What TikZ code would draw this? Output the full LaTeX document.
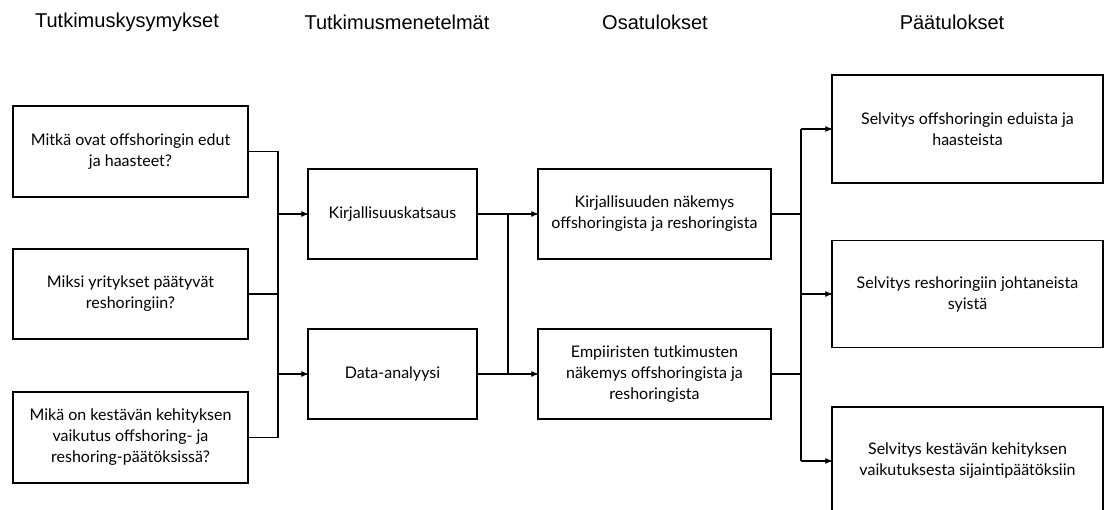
\documentclass[tikz,border=0pt]{standalone}
\usepackage{fontspec}
\setmainfont{Lato}
\newfontfamily\headfont{Liberation Sans}
\usetikzlibrary{arrows}

\begin{document}
\begin{tikzpicture}[x=1pt, y=-1pt,
        box/.style = {draw, line width = 1.2pt, align = center, font = \fontsize{16}{21}\selectfont, inner sep = 0pt},
        head/.style = {font = \headfont\fontsize{20}{22}\selectfont},
        line/.style = {line width = 1.2pt},
        arr/.style = {->, >=stealth', line width = 1.2pt}]
        \clip (0,0) rectangle (1104,510);
        \fill[white] (0,0) rectangle (1104,510);

        % otsikot
        \node[head] (h1) at (127,22){Tutkimuskysymykset};
        \node[head] (h2) at (397,22){Tutkimusmenetelmät};
        \node[head] (h3) at (655,22){Osatulokset};
        \node[head] (h4) at (952,22){Päätulokset};

        % tutkimuskysymykset
        \node[box, minimum width = 235pt, minimum height = 91pt] (q1) at (130.5,151.5){Mitkä ovat offshoringin edut\\ja haasteet?};
        \node[box, minimum width = 235pt, minimum height = 90pt] (q2) at (130.5,294){Miksi yritykset päätyvät\\reshoringiin?};
        \node[box, minimum width = 235pt, minimum height = 91pt] (q3) at (130.5,437.5){Mikä on kestävän kehityksen\\vaikutus offshoring- ja\\reshoring-päätöksissä?};

        % menetelmät
        \node[box, minimum width = 169pt, minimum height = 90pt] (kirj) at (392.5,214){Kirjallisuuskatsaus};
        \node[box, minimum width = 169pt, minimum height = 90pt] (data) at (392.5,374){Data-analyysi};

        % osatulokset
        \node[box, minimum width = 233pt, minimum height = 90pt] (okirj) at (654.5,214){Kirjallisuuden näkemys\\offshoringista ja reshoringista};
        \node[box, minimum width = 233pt, minimum height = 90pt] (oemp) at (654.5,374){Empiiristen tutkimusten\\näkemys offshoringista ja\\reshoringista};

        % päätulokset
        \node[box, minimum width = 271pt, minimum height = 108pt] (p1) at (967.5,129){Selvitys offshoringin eduista ja\\haasteista};
        \node[box, minimum width = 271pt, minimum height = 107pt] (p2) at (967.5,294){Selvitys reshoringiin johtaneista\\syistä};
        \node[box, minimum width = 271pt, minimum height = 108pt] (p3) at (967.5,461){Selvitys kestävän kehityksen\\vaikutuksesta sijaintipäätöksiin};

        \coordinate (j1) at (278,0);
        \coordinate (j2) at (508,0);
        \coordinate (j3) at (801,0);

        \draw[line] (q1.east) -| (j1 |- q3.east) -- (q3.east);
        \draw[line] (q2.east) -- (j1 |- q2.east);
        \draw[arr] (j1 |- kirj.west) -- (kirj.west);
        \draw[arr] (j1 |- data.west) -- (data.west);

        \draw[line] (j2 |- kirj.east) -- (j2 |- data.east);
        \draw[arr] (kirj.east) -- (okirj.west);
        \draw[arr] (data.east) -- (oemp.west);

        \draw[line] (okirj.east) -- (j3 |- okirj.east);
        \draw[line] (oemp.east) -- (j3 |- oemp.east);
        \draw[line] (j3 |- p1.west) -- (j3 |- p3.west);
        \draw[arr] (j3 |- p1.west) -- (p1.west);
        \draw[arr] (j3 |- p2.west) -- (p2.west);
        \draw[arr] (j3 |- p3.west) -- (p3.west);
    \end{tikzpicture}
\end{document}
